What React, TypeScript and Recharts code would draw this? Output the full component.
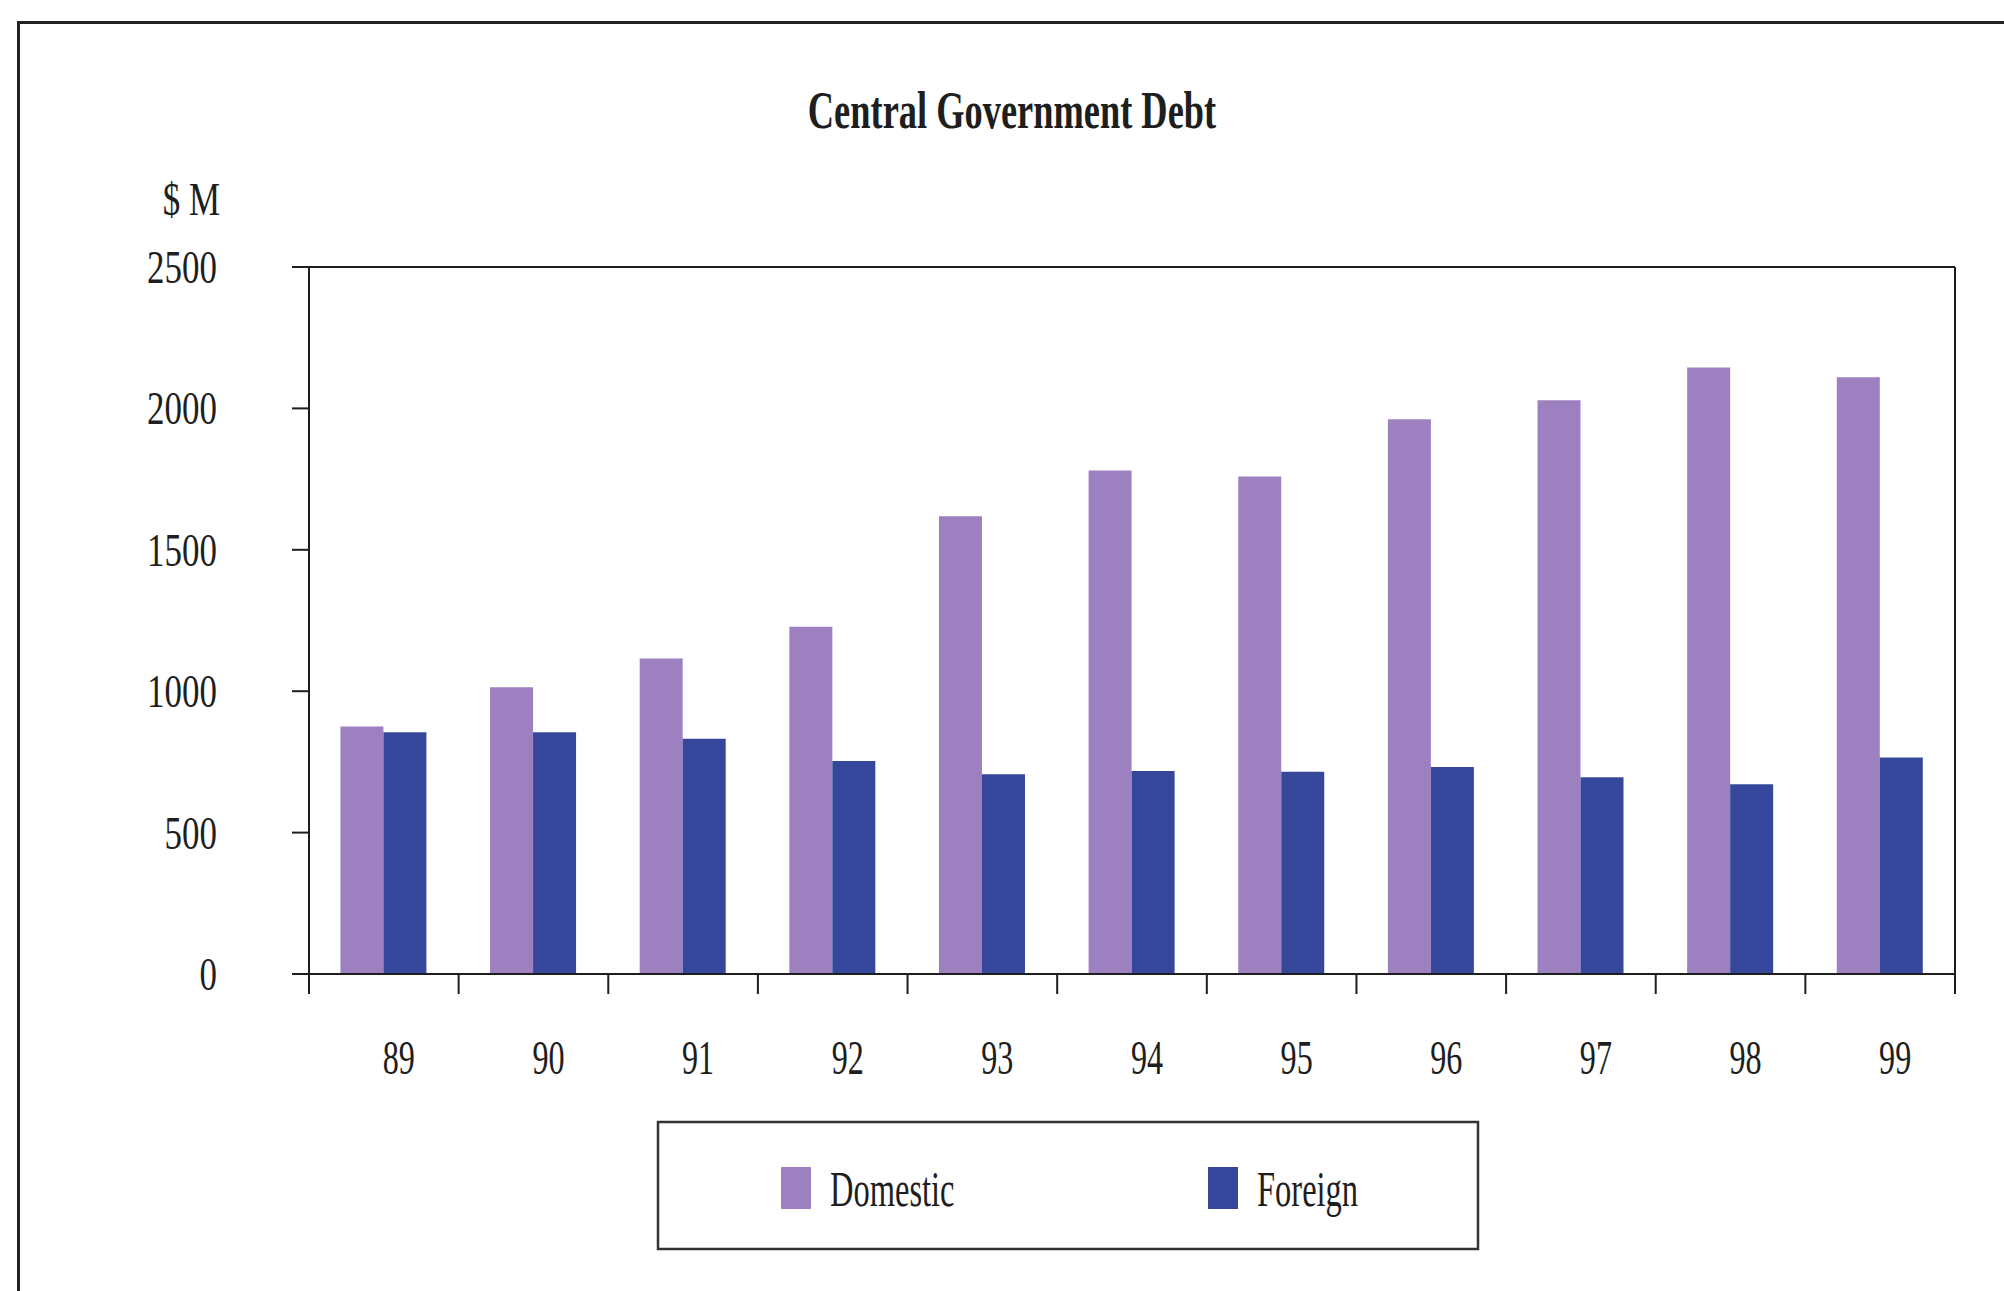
import { Bar, BarChart, Legend, XAxis, YAxis } from "recharts";

const years = ["89", "90", "91", "92", "93", "94", "95", "96", "97", "98", "99"];
const domestic = [875, 1014, 1116, 1228, 1619, 1780, 1759, 1962, 2029, 2145, 2110];
const foreign = [855, 855, 832, 753, 706, 718, 715, 732, 696, 671, 766];
const yTicks = [0, 500, 1000, 1500, 2000, 2500];
const seriesNames = ["Domestic", "Foreign"];
const seriesColors = ["#9c80c0", "#34479a"];
const title = "Central Government Debt";
const unit = "$ M";

const rows = years.map((y, i) => ({ year: y, Domestic: domestic[i], Foreign: foreign[i] }));

const SERIF = "'Liberation Serif', 'Times New Roman', serif";
const INK = "#1e1e1e";
const line = { stroke: INK, strokeWidth: 2 };

function YTick({ x, y, payload }: any) {
  return (
    <g transform={`translate(${x},${y})`}>
      <text transform="scale(0.76,1)" textAnchor="end" dy={16} fontSize={46} fontFamily={SERIF} fill={INK}>
        {payload.value}
      </text>
    </g>
  );
}

// category labels sit a bit right of centre; boundary ticks drawn at band edges
function XTick({ x, y, payload }: any) {
  const half = payload.offset || 74.8;
  const last = payload.value === years[years.length - 1];
  return (
    <g>
      <line x1={x - half} x2={x - half} y1={y} y2={y + 20} {...line} />
      {last && <line x1={x + half} x2={x + half} y1={y} y2={y + 20} {...line} />}
      <g transform={`translate(${x + 15},${y + 100})`}>
        <text transform="scale(0.67,1)" textAnchor="middle" fontSize={48} fontFamily={SERIF} fill={INK}>
          {payload.value}
        </text>
      </g>
    </g>
  );
}

function UnitLabel(props: any) {
  const vb = props.viewBox || { x: 109, y: 267, width: 200 };
  return (
    <g transform={`translate(${vb.x + vb.width - 89},${vb.y - 52})`}>
      <text transform="scale(0.76,1)" textAnchor="end" fontSize={46} fontFamily={SERIF} fill={INK}>
        {unit}
      </text>
    </g>
  );
}

function LegendBox() {
  const swatchX = [124, 551];
  return (
    <svg width={822} height={129} style={{ display: "block", overflow: "visible" }}>
      <rect x={1} y={1} width={820} height={127} fill="#fff" stroke="#333" strokeWidth={2.5} />
      {seriesNames.map((n, i) => (
        <g key={n}>
          <rect x={swatchX[i]} y={46} width={30} height={42} fill={seriesColors[i]} />
          <g transform={`translate(${swatchX[i] + 49},85)`}>
            <text transform="scale(0.65,1)" fontSize={50} fontFamily={SERIF} fill={INK}>
              {n}
            </text>
          </g>
        </g>
      ))}
    </svg>
  );
}

export default function App() {
  return (
    <div style={{ position: "absolute", left: 0, top: 0, width: 2004, height: 1291, background: "#fff" }}>
      <div style={{ position: "absolute", left: 17, top: 21, width: 1987, height: 3, background: "#222" }} />
      <div style={{ position: "absolute", left: 17, top: 21, width: 3, height: 1270, background: "#222" }} />
      <svg width={2004} height={180} style={{ position: "absolute", left: 0, top: 0, pointerEvents: "none" }}>
        <g transform="translate(1012,128)">
          <text transform="scale(0.7,1)" textAnchor="middle" fontSize={52} fontWeight="bold" fontFamily={SERIF} fill={INK}>
            {title}
          </text>
        </g>
      </svg>
      <BarChart
        width={2004}
        height={1291}
        data={rows}
        margin={{ top: 266, right: 48, bottom: 197, left: 109 }}
        barCategoryGap="21%"
        barGap={0}
      >
        <XAxis
          dataKey="year"
          height={120}
          interval={0}
          tickLine={false}
          tickSize={0}
          tickMargin={0}
          axisLine={line}
          tick={<XTick />}
        />
        <XAxis xAxisId="top" dataKey="year" orientation="top" height={1} tick={false} tickLine={false} axisLine={line} />
        <YAxis
          domain={[0, 2500]}
          ticks={yTicks}
          width={200}
          tickSize={17}
          tickMargin={75}
          axisLine={line}
          tickLine={line}
          tick={<YTick />}
          label={(p: any) => <UnitLabel {...p} />}
        />
        <YAxis yAxisId="right" orientation="right" domain={[0, 2500]} width={1} tick={false} tickLine={false} axisLine={line} />
        <Legend
          layout="vertical"
          align="center"
          verticalAlign="middle"
          wrapperStyle={{ left: 657, top: 1121, width: 822, height: 129 }}
          content={<LegendBox />}
        />
        <Bar dataKey="Domestic" fill={seriesColors[0]} isAnimationActive={false} />
        <Bar dataKey="Foreign" fill={seriesColors[1]} isAnimationActive={false} />
      </BarChart>
    </div>
  );
}
